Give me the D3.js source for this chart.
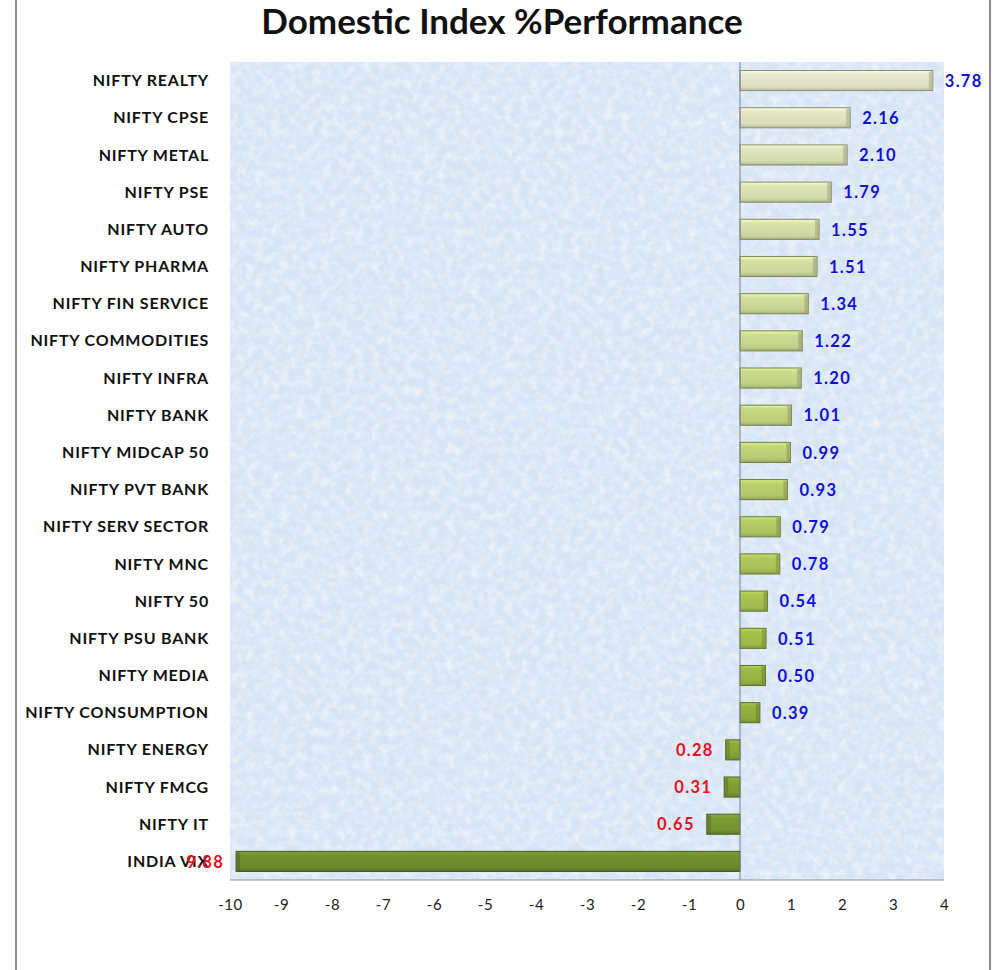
<!DOCTYPE html>
<html>
<head>
<meta charset="utf-8">
<script src="https://cdn.jsdelivr.net/npm/d3@7"></script>
<style>
  body { margin: 0; background: #fff; }
  text { font-family: Lato, "Open Sans", sans-serif; }
</style>
</head>
<body>
<div id="chart"></div>
<script>
var categories = ["NIFTY REALTY", "NIFTY CPSE", "NIFTY METAL", "NIFTY PSE", "NIFTY AUTO",
  "NIFTY PHARMA", "NIFTY FIN SERVICE", "NIFTY COMMODITIES", "NIFTY INFRA", "NIFTY BANK",
  "NIFTY MIDCAP 50", "NIFTY PVT BANK", "NIFTY SERV SECTOR", "NIFTY MNC", "NIFTY 50",
  "NIFTY PSU BANK", "NIFTY MEDIA", "NIFTY CONSUMPTION", "NIFTY ENERGY", "NIFTY FMCG",
  "NIFTY IT", "INDIA VIX"];
var values = [3.78, 2.16, 2.10, 1.79, 1.55, 1.51, 1.34, 1.22, 1.20, 1.01, 0.99, 0.93,
  0.79, 0.78, 0.54, 0.51, 0.50, 0.39, -0.28, -0.31, -0.65, -9.88];
var xTicks = [-10, -9, -8, -7, -6, -5, -4, -3, -2, -1, 0, 1, 2, 3, 4];
var title = "Domestic Index %Performance";

window.onload = function () {
  var W = 1005, H = 970;
  var margin = {top: 62, left: 230, right: 61, bottom: 90};
  var width = W - margin.left - margin.right,
      height = H - margin.top - margin.bottom;

  var svg = d3.select("#chart").append("svg")
      .attr("width", W)
      .attr("height", H);

  // page border lines
  svg.append("line").attr("x1", 16).attr("x2", 16).attr("y1", 0).attr("y2", H)
      .attr("stroke", "#8c8c8c").attr("stroke-width", 2);
  svg.append("line").attr("x1", 990).attr("x2", 990).attr("y1", 0).attr("y2", H)
      .attr("stroke", "#8c8c8c").attr("stroke-width", 2);

  svg.append("text")
      .attr("x", 502).attr("y", 34)
      .attr("text-anchor", "middle")
      .style("font-size", "35px").style("font-weight", "bold")
      .attr("fill", "#111")
      .text(title);

  var defs = svg.append("defs");
  var filt = defs.append("filter").attr("id", "tex")
      .attr("x", 0).attr("y", 0).attr("width", 1).attr("height", 1);
  filt.append("feTurbulence").attr("type", "fractalNoise")
      .attr("baseFrequency", "0.12").attr("numOctaves", 4).attr("seed", 7);
  filt.append("feColorMatrix").attr("type", "matrix")
      .attr("values", "0 0 0 0 1  0 0 0 0 1  0 0 0 0 1  1.3 0 0 0 -0.45");

  var g = svg.append("g")
      .attr("transform", "translate(" + margin.left + "," + margin.top + ")");

  var x = d3.scaleLinear().domain([-10, 4]).range([0, width]);
  var y = d3.scaleBand().domain(categories).range([0, height]).paddingInner(0.46).paddingOuter(0.23);

  // plot background
  g.append("rect").attr("width", width).attr("height", height).attr("fill", "#d6e4f5");
  g.append("rect").attr("width", width).attr("height", height)
      .attr("fill", "#fff").attr("filter", "url(#tex)").attr("opacity", 0.8);

  var color = d3.scaleLinear()
      .domain([0, 9, 15, 21])
      .range(["#dcdfc0", "#bccd7c", "#9cb846", "#6b8a2c"]);

  categories.forEach(function (c, i) {
    var base = d3.color(color(i));
    var gr = defs.append("linearGradient").attr("id", "bar" + i)
        .attr("x1", 0).attr("x2", 0).attr("y1", 0).attr("y2", 1);
    gr.append("stop").attr("offset", "0").attr("stop-color", base.brighter(0.5));
    gr.append("stop").attr("offset", "0.2").attr("stop-color", base.brighter(0.15));
    gr.append("stop").attr("offset", "0.8").attr("stop-color", base);
    gr.append("stop").attr("offset", "1").attr("stop-color", base.darker(0.5));
  });

  var bars = g.selectAll(".bar").data(values).enter().append("g").attr("class", "bar");

  bars.append("rect")
      .attr("x", function (d) { return x(Math.min(0, d)); })
      .attr("y", function (d, i) { return y(categories[i]); })
      .attr("width", function (d) { return Math.abs(x(d) - x(0)); })
      .attr("height", y.bandwidth())
      .attr("fill", function (d, i) { return "url(#bar" + i + ")"; })
      .attr("stroke", function (d, i) { return d3.color(color(i)).darker(1.3); })
      .attr("stroke-width", 1);

  // bevel edge at bar end
  bars.append("rect")
      .attr("x", function (d) { return d > 0 ? x(d) - 4 : x(d); })
      .attr("y", function (d, i) { return y(categories[i]) + 1; })
      .attr("width", 4)
      .attr("height", y.bandwidth() - 2)
      .attr("fill", function (d, i) { return d3.color(color(i)).darker(0.6); })
      .attr("opacity", 0.7);

  // zero line and bottom axis line
  g.append("line").attr("x1", x(0)).attr("x2", x(0)).attr("y1", 0).attr("y2", height)
      .attr("stroke", "#7d8591").attr("stroke-width", 1);
  g.append("line").attr("x1", 0).attr("x2", width).attr("y1", height).attr("y2", height)
      .attr("stroke", "#8a9099").attr("stroke-width", 1);

  // category labels
  g.selectAll(".cat").data(categories).enter().append("text")
      .attr("class", "cat")
      .attr("x", -21)
      .attr("y", function (d) { return y(d) + y.bandwidth() / 2; })
      .attr("dy", "0.35em")
      .attr("text-anchor", "end")
      .style("font-size", "16px").style("font-weight", "bold")
      .style("letter-spacing", "0.8px")
      .attr("fill", "#111")
      .text(function (d) { return d; });

  // value labels
  g.selectAll(".val").data(values).enter().append("text")
      .attr("class", "val")
      .attr("x", function (d) { return d > 0 ? x(d) + 12 : x(d) - 12; })
      .attr("y", function (d, i) { return y(categories[i]) + y.bandwidth() / 2; })
      .attr("dy", "0.38em")
      .attr("text-anchor", function (d) { return d > 0 ? "start" : "end"; })
      .style("font-size", "16.5px").style("font-weight", "bold")
      .style("letter-spacing", "1.3px")
      .attr("fill", function (d) { return d > 0 ? "#1010d8" : "#e8101c"; })
      .text(function (d) { return Math.abs(d).toFixed(2); });

  // x axis
  var xAxis = g.append("g")
      .attr("transform", "translate(0," + height + ")")
      .call(d3.axisBottom(x).tickValues(xTicks).tickSize(0).tickPadding(19)
        .tickFormat(function (d) { return String(d); }));
  xAxis.select(".domain").remove();
  xAxis.selectAll("text")
      .style("font-size", "15px")
      .style("font-family", "Lato, 'Open Sans', sans-serif")
      .style("letter-spacing", "0.5px")
      .attr("fill", "#222");
};
</script>
</body>
</html>
